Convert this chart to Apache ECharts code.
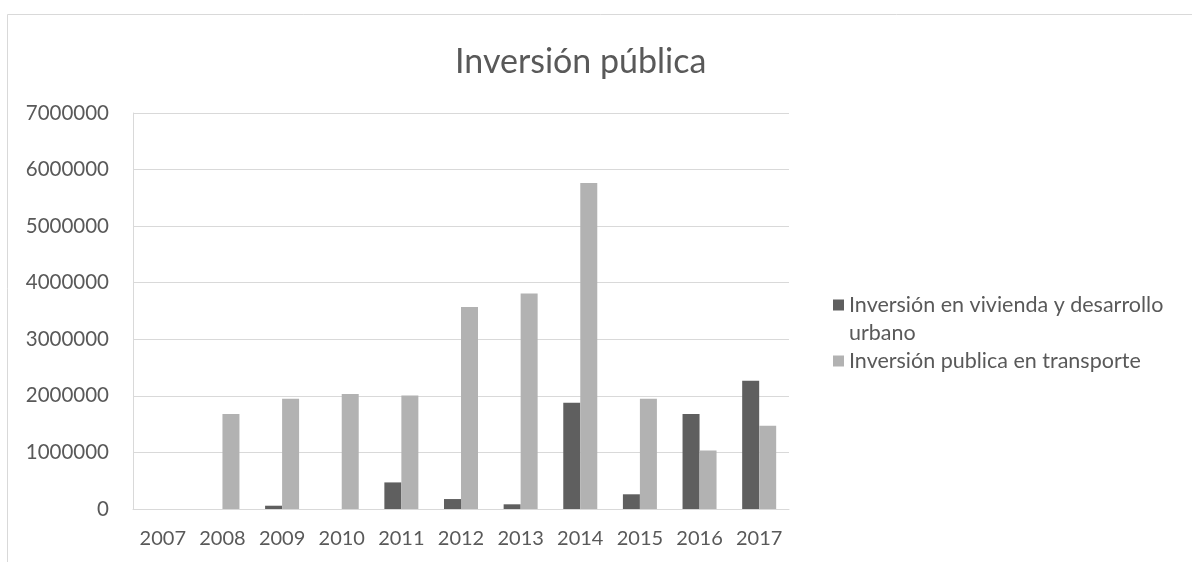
<!DOCTYPE html>
<html>
<head>
<meta charset="utf-8">
<script src="https://cdn.jsdelivr.net/npm/echarts@6/dist/echarts.min.js"></script>
<style>
html,body{margin:0;padding:0;background:#fff;}
#chart{width:1192px;height:562px;}
</style>
</head>
<body>
<div id="chart"></div>
<script>
var titleText = 'Inversión pública';
var years = ['2007','2008','2009','2010','2011','2012','2013','2014','2015','2016','2017'];
var seriesNames = ['Inversión en vivienda y desarrollo urbano', 'Inversión publica en transporte'];
var vivienda = [0, 0, 58000, 0, 470000, 176000, 83000, 1876000, 260000, 1680000, 2265000];
var transporte = [0, 1680000, 1947000, 2035000, 2005000, 3570000, 3810000, 5763000, 1950000, 1035000, 1470000];
var yTicks = [0, 1000000, 2000000, 3000000, 4000000, 5000000, 6000000, 7000000];

var FONT = 'Lato';
var TXT = '#595959';
var GRID = '#d9d9d9';

var chart = echarts.init(document.getElementById('chart'));
chart.setOption({
  backgroundColor: '#ffffff',
  animation: false,
  title: {
    text: titleText,
    left: 450,
    top: 40,
    textStyle: { fontFamily: FONT, fontSize: 34, fontWeight: 'normal', color: TXT }
  },
  legend: {
    orient: 'vertical',
    left: 828,
    top: 289,
    itemWidth: 11,
    itemHeight: 11,
    itemGap: 34,
    icon: 'rect',
    data: seriesNames,
    formatter: function (n) { return n === seriesNames[0] ? 'Inversión en vivienda y desarrollo' : n; },
    textStyle: { fontFamily: FONT, fontSize: 21.5, color: TXT, lineHeight: 20 }
  },
  graphic: [
    { type: 'rect', shape: { x: 7.5, y: 14.5, width: 1200, height: 600 },
      style: { fill: 'none', stroke: GRID, lineWidth: 1 }, silent: true },
    { type: 'text', left: 849, top: 322,
      style: { text: 'urbano', font: '21.5px Lato', fill: TXT } }
  ],
  grid: { left: 133, right: 403, top: 113, bottom: 53 },
  xAxis: {
    type: 'category',
    data: years,
    axisLine: { lineStyle: { color: GRID, width: 1 } },
    axisTick: { show: false },
    axisLabel: { fontFamily: FONT, fontSize: 20, color: TXT, margin: 20, interval: 0 }
  },
  yAxis: {
    type: 'value',
    min: yTicks[0],
    max: yTicks[yTicks.length - 1],
    interval: 1000000,
    axisLine: { show: true, lineStyle: { color: GRID, width: 1 } },
    axisTick: { show: false },
    splitLine: { lineStyle: { color: GRID, width: 1 } },
    axisLabel: { fontFamily: FONT, fontSize: 20.5, color: TXT, margin: 24,
      formatter: function (v) { return String(v); } }
  },
  series: [
    { name: seriesNames[0], type: 'bar', data: vivienda, barWidth: 17, barGap: '0%',
      itemStyle: { color: '#5f5f5f' } },
    { name: seriesNames[1], type: 'bar', data: transporte, barWidth: 17, barGap: '0%',
      itemStyle: { color: '#b2b2b2' } }
  ]
});
</script>
</body>
</html>
